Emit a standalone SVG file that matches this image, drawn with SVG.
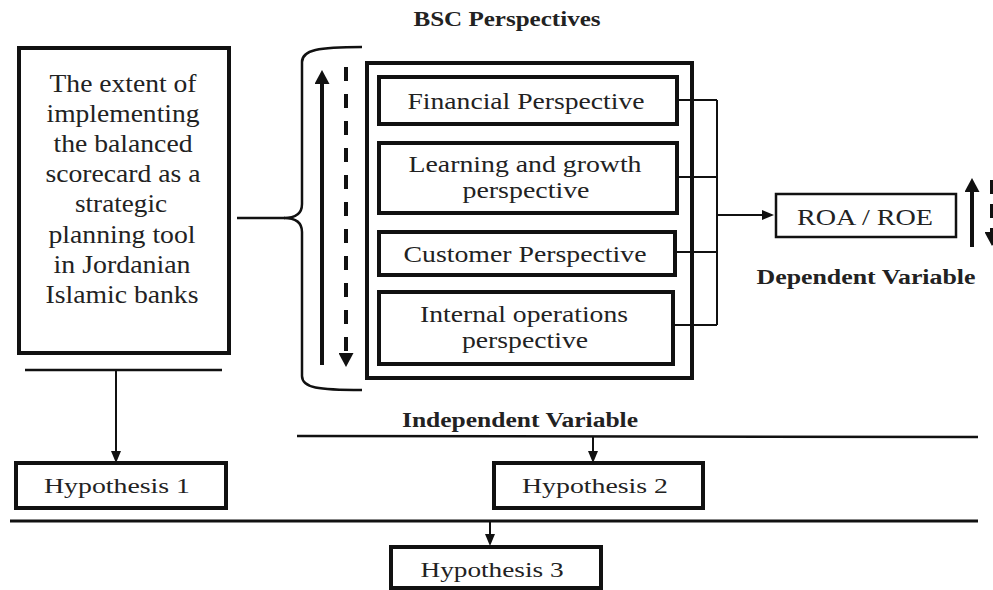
<svg xmlns="http://www.w3.org/2000/svg" width="993" height="590" viewBox="0 0 993 590">
<style>
.bx{fill:#fff;stroke:#111;stroke-width:4}
.thin{fill:none;stroke:#111;stroke-width:2}
.ln{fill:none;stroke:#111;stroke-width:2.5}
.t{font-family:"Liberation Serif","Times New Roman",serif;fill:#222;text-anchor:middle}
.b{font-family:"Liberation Serif","Times New Roman",serif;font-weight:bold;fill:#222;text-anchor:middle}
</style>
<defs>
<marker id="ah" markerUnits="userSpaceOnUse" markerWidth="12" markerHeight="10" viewBox="0 0 12 10" refX="0" refY="5" orient="auto"><path d="M0,0 L12,5 L0,10 z" fill="#111"/></marker>
<marker id="big" markerUnits="userSpaceOnUse" markerWidth="14" markerHeight="15" viewBox="0 0 14 15" refX="0" refY="7.5" orient="auto"><path d="M0,0 L14,7.5 L0,15 z" fill="#111"/></marker>
</defs>
<rect width="993" height="590" fill="#fff"/>

<g id="title">
<text class="b" x="507" y="26" font-size="20" textLength="187" lengthAdjust="spacingAndGlyphs">BSC Perspectives</text>
</g>

<g id="left-box">
<rect class="bx" x="19" y="48" width="210" height="305"/>
<g class="t" font-size="25">
<text x="123" y="92" textLength="147" lengthAdjust="spacingAndGlyphs">The extent of</text>
<text x="123" y="122" textLength="153" lengthAdjust="spacingAndGlyphs">implementing</text>
<text x="123" y="152" textLength="139" lengthAdjust="spacingAndGlyphs">the balanced</text>
<text x="123" y="182" textLength="155" lengthAdjust="spacingAndGlyphs">scorecard as a</text>
<text x="121" y="212" textLength="92" lengthAdjust="spacingAndGlyphs">strategic</text>
<text x="122" y="243" textLength="147" lengthAdjust="spacingAndGlyphs">planning tool</text>
<text x="122" y="273" textLength="137" lengthAdjust="spacingAndGlyphs">in Jordanian</text>
<text x="122" y="303" textLength="153" lengthAdjust="spacingAndGlyphs">Islamic banks</text>
</g>
</g>

<g id="bsc-frame">
<rect class="bx" x="367" y="63" width="325" height="315" fill="none"/>
</g>

<g id="financial">
<rect class="bx" x="379" y="77" width="298" height="47"/>
<text class="t" x="526" y="109" font-size="24" textLength="237" lengthAdjust="spacingAndGlyphs">Financial Perspective</text>
</g>
<g id="learning">
<rect class="bx" x="379" y="143" width="298" height="70"/>
<text class="t" x="525" y="172" font-size="24" textLength="233" lengthAdjust="spacingAndGlyphs">Learning and growth</text>
<text class="t" x="526" y="198" font-size="24" textLength="127" lengthAdjust="spacingAndGlyphs">perspective</text>
</g>
<g id="customer">
<rect class="bx" x="379" y="232" width="296" height="43"/>
<text class="t" x="525" y="262" font-size="24" textLength="243" lengthAdjust="spacingAndGlyphs">Customer Perspective</text>
</g>
<g id="internal">
<rect class="bx" x="379" y="292" width="294" height="72"/>
<text class="t" x="524" y="322" font-size="24" textLength="208" lengthAdjust="spacingAndGlyphs">Internal operations</text>
<text class="t" x="525" y="348" font-size="24" textLength="126" lengthAdjust="spacingAndGlyphs">perspective</text>
</g>

<g id="roa">
<rect x="776" y="194" width="180" height="43" fill="#fff" stroke="#111" stroke-width="2.5"/>
<text class="t" x="865" y="225" font-size="23" textLength="136" lengthAdjust="spacingAndGlyphs">ROA / ROE</text>
</g>
<g id="dependent-label">
<text class="b" x="866" y="284" font-size="20" textLength="219" lengthAdjust="spacingAndGlyphs">Dependent Variable</text>
</g>
<g id="independent-label">
<text class="b" x="520" y="427" font-size="20" textLength="236" lengthAdjust="spacingAndGlyphs">Independent Variable</text>
</g>

<g id="hyp1">
<rect class="bx" x="16" y="463" width="210" height="45"/>
<text class="t" x="117" y="493" font-size="22" textLength="146" lengthAdjust="spacingAndGlyphs">Hypothesis 1</text>
</g>
<g id="hyp2">
<rect class="bx" x="494" y="463" width="209" height="45"/>
<text class="t" x="595" y="493" font-size="22" textLength="146" lengthAdjust="spacingAndGlyphs">Hypothesis 2</text>
</g>
<g id="hyp3">
<rect class="bx" x="391" y="547" width="210" height="41"/>
<text class="t" x="492" y="577" font-size="22" textLength="143" lengthAdjust="spacingAndGlyphs">Hypothesis 3</text>
</g>

<g id="connectors">
<path class="ln" d="M362,47 C318,47 302,50 302,62 L302,204 C302,213 296,218 284,218 C296,218 302,223 302,232 L302,376 C302,388 318,390 362,390"/>
<line class="ln" x1="237" y1="218" x2="285" y2="218"/>
<line x1="322" y1="365" x2="322" y2="84" stroke="#111" stroke-width="4" marker-end="url(#big)"/>
<line x1="346" y1="67" x2="346" y2="353" stroke="#111" stroke-width="4" stroke-dasharray="14 13" marker-end="url(#big)"/>
<path class="thin" d="M677,100 H717 M677,177 H717 M675,252 H717 M673,325 H717 M717,100 V325"/>
<line class="thin" x1="717" y1="215" x2="762" y2="215" marker-end="url(#ah)"/>
<line x1="972" y1="247" x2="972" y2="192" stroke="#111" stroke-width="4" marker-end="url(#big)"/>
<line x1="992" y1="180" x2="992" y2="232" stroke="#111" stroke-width="4" stroke-dasharray="14 10" marker-end="url(#big)"/>
<line class="ln" x1="25" y1="370" x2="222" y2="370"/>
<line class="thin" x1="116" y1="370" x2="116" y2="451" marker-end="url(#ah)"/>
<line class="ln" x1="297" y1="436" x2="978" y2="437"/>
<line class="thin" x1="593" y1="436" x2="593" y2="451" marker-end="url(#ah)"/>
<line x1="10" y1="521" x2="978" y2="521" stroke="#111" stroke-width="3"/>
<line class="thin" x1="490" y1="521" x2="490" y2="534" marker-end="url(#ah)"/>
</g>
</svg>
